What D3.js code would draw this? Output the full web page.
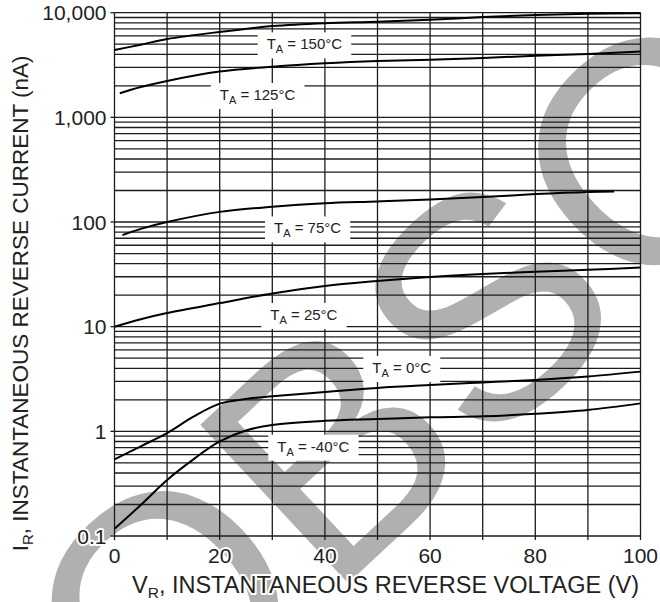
<!DOCTYPE html>
<html>
<head>
<meta charset="utf-8">
<script src="https://cdn.jsdelivr.net/npm/d3@7"></script>
<style>
  body { margin: 0; background: #fff; }
  text { font-family: "Liberation Sans", Arial, sans-serif; }
</style>
</head>
<body>
<div id="chart"></div>
<script>
// reverse current vs reverse voltage, one curve per temperature
const t150V = [0, 5, 10, 20, 30, 40, 50, 60, 70, 80, 90, 100];
const t150I = [4400, 4950, 5600, 6550, 7450, 7950, 8200, 8550, 9100, 9500, 9750, 9900];
const t125V = [1, 5, 10, 20, 30, 40, 50, 60, 70, 80, 90, 100];
const t125I = [1700, 1950, 2230, 2740, 3050, 3290, 3460, 3560, 3700, 3870, 4040, 4250];
const t75V = [1.5, 5, 10, 20, 30, 40, 50, 60, 70, 80, 90, 95];
const t75I = [75, 86, 100, 125, 140, 151, 157, 164, 173, 185, 194, 196];
const t25V = [0, 5, 10, 20, 30, 40, 50, 60, 70, 80, 90, 100];
const t25I = [10, 11.8, 13.5, 16.8, 20.8, 24.5, 27.3, 29.9, 31.9, 33.4, 34.9, 36.8];
const t0V = [0, 5, 10, 15, 20, 25, 30, 40, 50, 60, 70, 80, 90, 100];
const t0I = [0.54, 0.72, 0.96, 1.38, 1.84, 2.04, 2.16, 2.38, 2.6, 2.77, 2.93, 3.10, 3.34, 3.72];
const tm40V = [0, 5, 10, 15, 20, 25, 30, 40, 50, 60, 70, 80, 90, 100];
const tm40I = [0.117, 0.198, 0.343, 0.54, 0.80, 1.02, 1.15, 1.26, 1.31, 1.36, 1.39, 1.47, 1.60, 1.85];

// curve labels: temperature and where the label sits (V, nA)
const labelTemps = ["150°C", "125°C", "75°C", "25°C", "0°C", "-40°C"];
const labelV = [36.1, 27.2, 36.7, 36.0, 54.6, 37.8];
const labelI = [4460, 1466, 77.8, 11.6, 3.61, 0.639];

const xTicks = [0, 20, 40, 60, 80, 100];
const yTicks = [0.1, 1, 10, 100, 1000, 10000];
const yTickLabels = ["0.1", "1", "10", "100", "1,000", "10,000"];

const W = 660, H = 602;
const margin = { top: 12.7, right: 19.5, bottom: 66, left: 114.5 };
const width = W - margin.left - margin.right;
const height = H - margin.top - margin.bottom;

const root = d3.select("#chart").append("svg")
    .attr("width", W).attr("height", H);

root.append("rect").attr("width", W).attr("height", H).attr("fill", "#fff");

// OBSOLETE watermark, under everything
root.append("text")
    .attr("transform", "translate(150,768) rotate(-43)")
    .attr("font-size", 315)
    .attr("letter-spacing", 0)
    .attr("fill", "#b0b0b0")
    .text("OBSOLETE");

const svg = root.append("g")
    .attr("transform", `translate(${margin.left},${margin.top})`);

const x = d3.scaleLinear().domain([0, 100]).range([0, width]);
const y = d3.scaleLog().domain([0.1, 10000]).range([height, 0]);

// grid
const grid = svg.append("g").attr("stroke", "#1c1c1c").attr("stroke-width", 1.3);
grid.selectAll(".vg").data(d3.range(0, 101, 10)).enter().append("line")
    .attr("x1", d => x(d)).attr("x2", d => x(d))
    .attr("y1", 0).attr("y2", height);
const hLines = [];
yTicks.slice(0, -1).forEach(d => { for (let k = 1; k < 10; k++) hLines.push(d * k); });
hLines.push(10000);
grid.selectAll(".hg").data(hLines).enter().append("line")
    .attr("x1", 0).attr("x2", width)
    .attr("y1", d => y(d)).attr("y2", d => y(d));

// small ticks outside the frame
grid.selectAll(".yt").data(yTicks).enter().append("line")
    .attr("x1", -4).attr("x2", 0).attr("y1", d => y(d)).attr("y2", d => y(d));
grid.selectAll(".xt").data(d3.range(0, 101, 10)).enter().append("line")
    .attr("x1", d => x(d)).attr("x2", d => x(d)).attr("y1", height).attr("y2", height + 4);

const boxG = svg.append("g");

// curves
const series = [[t150V, t150I], [t125V, t125I], [t75V, t75I], [t25V, t25I], [t0V, t0I], [tm40V, tm40I]];
const line = d3.line().x(d => x(d[0])).y(d => y(d[1])).curve(d3.curveCatmullRom.alpha(0.5));
svg.append("g").selectAll("path").data(series).enter().append("path")
    .attr("d", s => line(s[0].map((v, i) => [v, s[1][i]])))
    .attr("fill", "none").attr("stroke", "#000").attr("stroke-width", 2);

// curve labels with white boxes that break the grid
const labG = svg.append("g");
labelTemps.forEach((t, i) => {
    const tx = labG.append("text")
        .attr("x", x(labelV[i])).attr("y", y(labelI[i]))
        .attr("text-anchor", "middle")
        .attr("font-size", 15).attr("fill", "#222");
    tx.append("tspan").text("T");
    tx.append("tspan").attr("font-size", 11).attr("dy", 4).text("A");
    tx.append("tspan").attr("dy", -4).text(" = " + t);
    const b = tx.node().getBBox();
    boxG.append("rect")
        .attr("x", b.x - 9).attr("y", b.y - 3)
        .attr("width", b.width + 18).attr("height", b.height + 6)
        .attr("fill", "#fff");
});

// axis text
const halo = sel => sel.attr("stroke", "#fff").attr("stroke-width", 4)
    .attr("paint-order", "stroke").attr("stroke-linejoin", "round");

svg.append("g").selectAll("text").data(yTicks).enter().append("text")
    .attr("x", -8).attr("y", d => y(d)).attr("dy", "0.36em")
    .attr("text-anchor", "end").attr("font-size", 21).attr("fill", "#222")
    .text((d, i) => yTickLabels[i]).call(halo);

svg.append("g").selectAll("text").data(xTicks).enter().append("text")
    .attr("x", d => x(d)).attr("y", height + 27)
    .attr("text-anchor", "middle").attr("font-size", 21).attr("fill", "#222")
    .text(d => d).call(halo);

const xt = svg.append("text")
    .attr("x", width / 2 + 8).attr("y", height + 57)
    .attr("text-anchor", "middle").attr("font-size", 23.5).attr("fill", "#222").call(halo);
xt.append("tspan").text("V");
xt.append("tspan").attr("font-size", 15.5).attr("dy", 5).text("R");
xt.append("tspan").attr("dy", -5).text(", INSTANTANEOUS REVERSE VOLTAGE (V)");

const yt = svg.append("text")
    .attr("transform", `translate(${-margin.left + 28},${height / 2 + 29}) rotate(-90)`)
    .attr("text-anchor", "middle").attr("font-size", 22.5).attr("fill", "#222").call(halo);
yt.append("tspan").text("I");
yt.append("tspan").attr("font-size", 15).attr("dy", 5).text("R");
yt.append("tspan").attr("dy", -5).text(", INSTANTANEOUS REVERSE CURRENT (nA)");
</script>
</body>
</html>
